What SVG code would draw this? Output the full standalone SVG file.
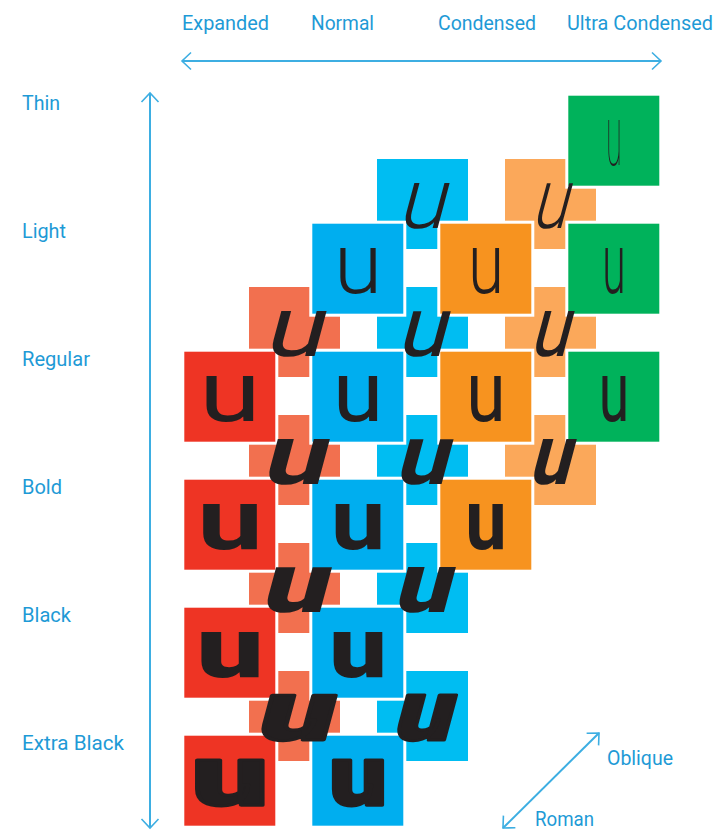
<svg xmlns="http://www.w3.org/2000/svg" width="716" height="830" viewBox="0 0 716 830">
<defs>
<marker id="chev" viewBox="-11 -11 22 22" refX="0" refY="0" markerWidth="22" markerHeight="22" markerUnits="userSpaceOnUse" orient="auto-start-reverse">
<path d="M-9,-8.5 L0,0 L-9,8.5" fill="none" stroke="#3DAEE2" stroke-width="1.6"/>
</marker>
</defs>
<style>
.lbl{font-family:"Liberation Sans Narrow","Roboto","Liberation Sans",sans-serif;font-size:20px;fill:#1E9AD6}
.ax{stroke:#3DAEE2;stroke-width:2;fill:none}
.ro{stroke:#fff;stroke-width:3}
.ob{stroke:#fff;stroke-width:1}
.red{fill:#EE3424}.sal{fill:#F2704F}
.blu{fill:#00AEEF}.lbl2{fill:#00BDF2}
.org{fill:#F7931F}.lor{fill:#FBA85A}
.grn{fill:#00B25B}
.g{font-family:"Roboto","Liberation Sans",sans-serif;font-size:85px;fill:#231F20;text-anchor:middle}
.w1{font-weight:100}.w3{font-weight:300}.w4{font-weight:400}.w7{font-weight:700}.w9{font-weight:900}
.xb{font-weight:900;stroke:#231F20;stroke-width:3;stroke-linejoin:round}
</style>

<g id="connectors">
<line class="ax" x1="182" y1="61" x2="661" y2="61" marker-start="url(#chev)" marker-end="url(#chev)"/>
<line class="ax" x1="150" y1="93" x2="150" y2="828" marker-start="url(#chev)" marker-end="url(#chev)"/>
<line class="ax" x1="503" y1="828" x2="599" y2="733" stroke-width="1.6" marker-start="url(#chev)" marker-end="url(#chev)"/>
</g>

<g id="labels">
<text class="lbl" x="182" y="30" textLength="87" lengthAdjust="spacingAndGlyphs">Expanded</text>
<text class="lbl" x="311" y="30" textLength="63" lengthAdjust="spacingAndGlyphs">Normal</text>
<text class="lbl" x="438" y="30" textLength="98" lengthAdjust="spacingAndGlyphs">Condensed</text>
<text class="lbl" x="567" y="30" textLength="146" lengthAdjust="spacingAndGlyphs">Ultra Condensed</text>
<text class="lbl" x="22" y="110" textLength="38" lengthAdjust="spacingAndGlyphs">Thin</text>
<text class="lbl" x="22" y="238" textLength="44" lengthAdjust="spacingAndGlyphs">Light</text>
<text class="lbl" x="22" y="366" textLength="68" lengthAdjust="spacingAndGlyphs">Regular</text>
<text class="lbl" x="22" y="494" textLength="40" lengthAdjust="spacingAndGlyphs">Bold</text>
<text class="lbl" x="22" y="622" textLength="49" lengthAdjust="spacingAndGlyphs">Black</text>
<text class="lbl" x="22" y="750" textLength="102" lengthAdjust="spacingAndGlyphs">Extra Black</text>
<text class="lbl" x="607" y="765" textLength="66" lengthAdjust="spacingAndGlyphs">Oblique</text>
<text class="lbl" x="535" y="826" textLength="59" lengthAdjust="spacingAndGlyphs">Roman</text>
</g>

<g id="oblique-squares">
<rect id="ob-light-n" class="ob lbl2" x="376.5" y="158.5" width="92" height="91"/>
<rect id="ob-light-c" class="ob lor" x="504.5" y="158.5" width="92" height="91"/>
<rect id="ob-reg-e" class="ob sal" x="248.5" y="286.5" width="92" height="91"/>
<rect id="ob-reg-n" class="ob lbl2" x="376.5" y="286.5" width="92" height="91"/>
<rect id="ob-reg-c" class="ob lor" x="504.5" y="286.5" width="92" height="91"/>
<rect id="ob-bold-e" class="ob sal" x="248.5" y="414.5" width="92" height="91"/>
<rect id="ob-bold-n" class="ob lbl2" x="376.5" y="414.5" width="92" height="91"/>
<rect id="ob-bold-c" class="ob lor" x="504.5" y="414.5" width="92" height="91"/>
<rect id="ob-black-e" class="ob sal" x="248.5" y="542.5" width="92" height="91"/>
<rect id="ob-black-n" class="ob lbl2" x="376.5" y="542.5" width="92" height="91"/>
<rect id="ob-xb-e" class="ob sal" x="248.5" y="670.5" width="92" height="91"/>
<rect id="ob-xb-n" class="ob lbl2" x="376.5" y="670.5" width="92" height="91"/>
</g>

<g id="roman-squares">
<rect id="ro-thin-u" class="ro grn" x="566.8" y="94.2" width="94" height="93"/>
<rect id="ro-light-n" class="ro blu" x="310.8" y="222.2" width="94" height="93"/>
<rect id="ro-light-c" class="ro org" x="438.8" y="222.2" width="94" height="93"/>
<rect id="ro-light-u" class="ro grn" x="566.8" y="222.2" width="94" height="93"/>
<rect id="ro-reg-e" class="ro red" x="182.8" y="350.2" width="94" height="93"/>
<rect id="ro-reg-n" class="ro blu" x="310.8" y="350.2" width="94" height="93"/>
<rect id="ro-reg-c" class="ro org" x="438.8" y="350.2" width="94" height="93"/>
<rect id="ro-reg-u" class="ro grn" x="566.8" y="350.2" width="94" height="93"/>
<rect id="ro-bold-e" class="ro red" x="182.8" y="478.2" width="94" height="93"/>
<rect id="ro-bold-n" class="ro blu" x="310.8" y="478.2" width="94" height="93"/>
<rect id="ro-bold-c" class="ro org" x="438.8" y="478.2" width="94" height="93"/>
<rect id="ro-black-e" class="ro red" x="182.8" y="606.2" width="94" height="93"/>
<rect id="ro-black-n" class="ro blu" x="310.8" y="606.2" width="94" height="93"/>
<rect id="ro-xb-e" class="ro red" x="182.8" y="734.2" width="94" height="93"/>
<rect id="ro-xb-n" class="ro blu" x="310.8" y="734.2" width="94" height="93"/>
</g>

<g id="oblique-glyphs">
<text class="g w3" transform="translate(420,228) skewX(-15) scale(1.04,1)">u</text>
<text class="g w3" transform="translate(548,228) skewX(-15) scale(0.77,1)">u</text>
<text class="g w4" transform="translate(292,356) skewX(-15) scale(1.28,1)">u</text>
<text class="g w4" transform="translate(420,356) skewX(-15) scale(1.06,1)">u</text>
<text class="g w4" transform="translate(548,356) skewX(-15) scale(0.84,1)">u</text>
<text class="g w7" transform="translate(292,484) skewX(-15) scale(1.34,1)">u</text>
<text class="g w7" transform="translate(420,484) skewX(-15) scale(1.12,1)">u</text>
<text class="g w7" transform="translate(548,484) skewX(-15) scale(0.87,1)">u</text>
<text class="g w9" transform="translate(292,612) skewX(-15) scale(1.38,1)">u</text>
<text class="g w9" transform="translate(420,612) skewX(-15) scale(1.18,1)">u</text>
<text class="g xb" transform="translate(292,740) skewX(-15) scale(1.56,1)">u</text>
<text class="g xb" transform="translate(420,740) skewX(-15) scale(1.2,1)">u</text>
</g>

<g id="roman-glyphs">
<text class="g w1" transform="translate(614,165) scale(0.34,1)">u</text>
<text class="g w3" transform="translate(358,293) scale(1.04,1)">u</text>
<text class="g w3" transform="translate(486,293) scale(0.77,1)">u</text>
<text class="g w3" transform="translate(614,293) scale(0.5,1)">u</text>
<text class="g w4" transform="translate(230,421) scale(1.32,1)">u</text>
<text class="g w4" transform="translate(358,421) scale(1.08,1)">u</text>
<text class="g w4" transform="translate(486,421) scale(0.84,1)">u</text>
<text class="g w4" transform="translate(614,421) scale(0.65,1)">u</text>
<text class="g w7" transform="translate(230,549) scale(1.38,1)">u</text>
<text class="g w7" transform="translate(358,549) scale(1.15,1)">u</text>
<text class="g w7" transform="translate(486,549) scale(0.87,1)">u</text>
<text class="g w9" transform="translate(230,677) scale(1.41,1)">u</text>
<text class="g w9" transform="translate(358,677) scale(1.2,1)">u</text>
<text class="g xb" transform="translate(230,805) scale(1.6,1)">u</text>
<text class="g xb" transform="translate(358,805) scale(1.2,1)">u</text>
</g>
</svg>
